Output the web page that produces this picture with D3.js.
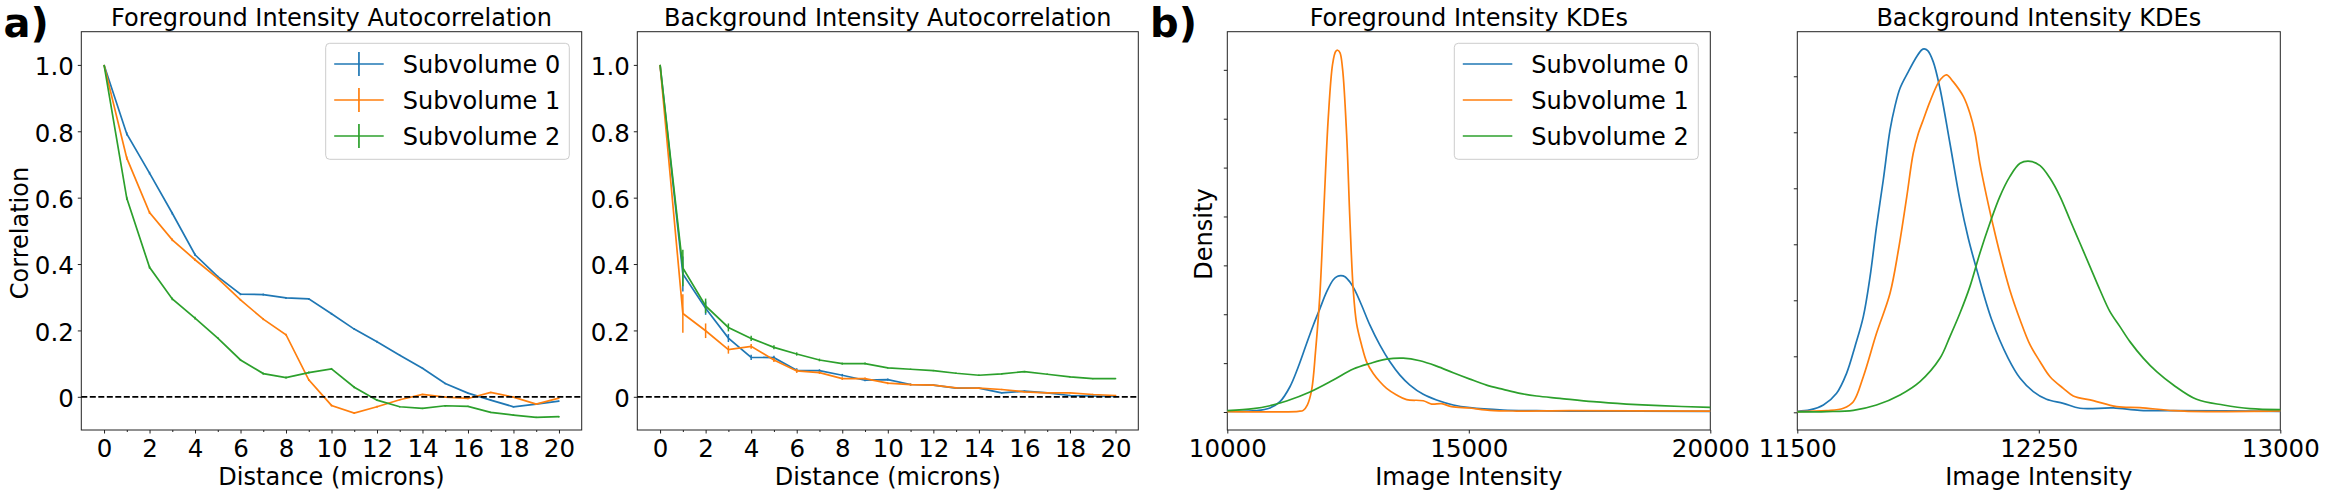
<!DOCTYPE html>
<html>
<head>
<meta charset="utf-8">
<script src="https://cdn.jsdelivr.net/npm/d3@7"></script>
<style>
  body { margin: 0; background: #fff; }
  svg { display: block; font-family: "DejaVu Sans", sans-serif; }
</style>
</head>
<body>
<div id="chart"></div>
<script>
const seriesNames = ["Subvolume 0", "Subvolume 1", "Subvolume 2"];
const colors = ["#1f77b4", "#ff7f0e", "#2ca02c"];

const distances = d3.range(0, 21);
const distanceTicks = d3.range(0, 21, 2);
const corrTicks = [0, 0.2, 0.4, 0.6, 0.8, 1.0];

// foreground autocorrelation
const fgCorr0 = [1, 0.792, 0.674, 0.553, 0.428, 0.362, 0.309, 0.308, 0.298, 0.295, 0.25, 0.204, 0.166, 0.125, 0.086, 0.04, 0.011, -0.01, -0.03, -0.022, -0.013];
const fgCorr1 = [1, 0.719, 0.555, 0.473, 0.413, 0.357, 0.292, 0.234, 0.187, 0.051, -0.026, -0.049, -0.03, -0.009, 0.007, -0.001, -0.005, 0.013, -0.001, -0.022, -0.004];
const fgCorr2 = [1, 0.598, 0.39, 0.295, 0.237, 0.177, 0.111, 0.07, 0.058, 0.073, 0.084, 0.029, -0.01, -0.03, -0.035, -0.027, -0.029, -0.047, -0.055, -0.062, -0.06];
const fgErr = [0, 0.005, 0.004, 0.004, 0.004, 0.003, 0.003, 0.003, 0.003, 0.003, 0.003, 0.003, 0.003, 0.002, 0.002, 0.002, 0.002, 0.002, 0.002, 0.002, 0.002];

// background autocorrelation
const bgCorr0 = [1, 0.37, 0.267, 0.177, 0.119, 0.118, 0.08, 0.079, 0.065, 0.05, 0.052, 0.037, 0.035, 0.026, 0.026, 0.012, 0.017, 0.012, 0.004, 0.002, 0.001];
const bgCorr1 = [1, 0.251, 0.199, 0.142, 0.152, 0.111, 0.078, 0.073, 0.055, 0.055, 0.041, 0.037, 0.035, 0.027, 0.026, 0.022, 0.015, 0.012, 0.012, 0.007, 0.004];
const bgCorr2 = [1, 0.388, 0.274, 0.209, 0.176, 0.149, 0.129, 0.111, 0.1, 0.1, 0.087, 0.083, 0.079, 0.071, 0.065, 0.069, 0.076, 0.068, 0.06, 0.055, 0.055];
const bgErr0 = [0, 0.053, 0.02, 0.012, 0.008, 0.006, 0.006, 0.004, 0.004, 0.003, 0.003, 0.003, 0.002, 0.002, 0.002, 0.002, 0.002, 0.002, 0.002, 0.002, 0.002];
const bgErr1 = [0, 0.058, 0.022, 0.012, 0.007, 0.006, 0.006, 0.004, 0.004, 0.003, 0.003, 0.003, 0.002, 0.002, 0.002, 0.002, 0.002, 0.002, 0.002, 0.002, 0.002];
const bgErr2 = [0, 0.055, 0.022, 0.012, 0.008, 0.006, 0.005, 0.004, 0.003, 0.003, 0.002, 0.002, 0.002, 0.002, 0.002, 0.002, 0.002, 0.002, 0.002, 0.002, 0.002];

// foreground KDEs, density in units of 1e-4
const fgInt0 = [10000, 10607, 10883, 11090, 11297, 11470, 11642, 11780, 11918, 12056, 12194, 12284, 12353, 12436, 12539, 12643, 12781, 12953, 13160, 13367, 13574, 13781, 14057, 14333, 14678, 15023, 15713, 16403, 17093, 20000];
const fgDen0 = [0.014, 0.027, 0.082, 0.211, 0.517, 0.925, 1.401, 1.776, 2.116, 2.456, 2.707, 2.776, 2.789, 2.769, 2.66, 2.49, 2.184, 1.776, 1.367, 1.027, 0.755, 0.551, 0.361, 0.245, 0.143, 0.088, 0.041, 0.027, 0.02, 0.014];
const fgInt1 = [10000, 11470, 11573, 11656, 11746, 11829, 11918, 12001, 12091, 12180, 12243, 12284, 12332, 12387, 12470, 12539, 12608, 12677, 12781, 12884, 13022, 13160, 13298, 13505, 13712, 14057, 14230, 14437, 14644, 15023, 15437, 15989, 17093, 20000];
const fgDen1 = [0.007, 0.014, 0.034, 0.143, 0.449, 1.265, 2.422, 4.19, 6.027, 7.116, 7.374, 7.401, 7.354, 7.014, 5.687, 3.918, 2.49, 1.81, 1.367, 1.027, 0.789, 0.619, 0.483, 0.347, 0.252, 0.231, 0.163, 0.17, 0.109, 0.082, 0.034, 0.02, 0.027, 0.02];
const fgInt2 = [10000, 10538, 10883, 11228, 11711, 12194, 12608, 12953, 13298, 13643, 13988, 14333, 14678, 15023, 15368, 15713, 16058, 16403, 16886, 17576, 18266, 18956, 20000];
const fgDen2 = [0.027, 0.068, 0.129, 0.224, 0.408, 0.653, 0.878, 0.993, 1.082, 1.102, 1.048, 0.939, 0.803, 0.673, 0.551, 0.463, 0.381, 0.327, 0.279, 0.211, 0.163, 0.129, 0.095];

// background KDEs, density in units of 1e-3
const bgInt0 = [11500, 11539, 11581, 11622, 11653, 11679, 11705, 11726, 11746, 11767, 11788, 11803, 11819, 11845, 11871, 11886, 11894, 11905, 11922, 11943, 11974, 12005, 12031, 12059, 12104, 12155, 12192, 12233, 12274, 12326, 12378, 12481, 12564, 12668, 13000];
const bgDen0 = [0.009, 0.021, 0.065, 0.17, 0.348, 0.586, 0.854, 1.211, 1.658, 2.074, 2.521, 2.729, 2.893, 3.042, 3.176, 3.235, 3.244, 3.229, 3.131, 2.893, 2.402, 1.896, 1.554, 1.256, 0.824, 0.482, 0.304, 0.185, 0.116, 0.08, 0.036, 0.039, 0.018, 0.015, 0.009];
const bgInt1 = [11500, 11591, 11643, 11674, 11705, 11746, 11788, 11814, 11840, 11860, 11876, 11891, 11912, 11938, 11953, 11964, 11984, 12016, 12036, 12052, 12067, 12088, 12109, 12129, 12160, 12192, 12223, 12254, 12285, 12326, 12357, 12419, 12492, 12564, 12668, 12771, 13000];
const bgDen1 = [0.006, 0.015, 0.036, 0.095, 0.318, 0.705, 1.063, 1.449, 1.926, 2.313, 2.491, 2.61, 2.774, 2.943, 2.997, 3.012, 2.952, 2.818, 2.67, 2.491, 2.223, 1.926, 1.658, 1.42, 1.092, 0.824, 0.601, 0.452, 0.318, 0.214, 0.146, 0.104, 0.051, 0.042, 0.015, 0.006, 0.012];
const bgInt2 = [11500, 11591, 11674, 11746, 11819, 11881, 11943, 11974, 12005, 12036, 12067, 12098, 12129, 12160, 12192, 12223, 12254, 12285, 12316, 12347, 12378, 12409, 12440, 12471, 12502, 12533, 12575, 12616, 12668, 12740, 12823, 12906, 13000];
const bgDen2 = [0.003, 0.006, 0.018, 0.065, 0.155, 0.274, 0.482, 0.676, 0.884, 1.122, 1.42, 1.688, 1.926, 2.104, 2.223, 2.241, 2.202, 2.089, 1.926, 1.717, 1.509, 1.301, 1.092, 0.899, 0.765, 0.631, 0.482, 0.363, 0.244, 0.116, 0.065, 0.033, 0.024];

const width = 2325;
const height = 496;
const plotTop = 31.7;
const plotBottom = 430;
const tickFont = 24.5;
const labelFont = 24;
const titleFont = 24;

const svg = d3
  .select("#chart")
  .append("svg")
  .attr("width", width)
  .attr("height", height)
  .attr("viewBox", [0, 0, width, height]);

const corrFormat = (d) => (d === 0 ? "0" : d3.format(".1f")(d));

function frame(left, right, title, xLabel) {
  const g = svg.append("g");
  g.append("rect")
    .attr("x", left)
    .attr("y", plotTop)
    .attr("width", right - left)
    .attr("height", plotBottom - plotTop)
    .attr("fill", "none")
    .attr("stroke", "#222")
    .attr("stroke-width", 1);
  g.append("text")
    .attr("x", (left + right) / 2)
    .attr("y", 26)
    .attr("text-anchor", "middle")
    .attr("font-size", titleFont)
    .text(title);
  g.append("text")
    .attr("x", (left + right) / 2)
    .attr("y", 485)
    .attr("text-anchor", "middle")
    .attr("font-size", labelFont)
    .text(xLabel);
  return g;
}

function styleAxis(g) {
  g.select(".domain").remove();
  g.selectAll(".tick line").attr("stroke", "#222");
  g.selectAll(".tick text").attr("font-size", tickFont).attr("font-family", "DejaVu Sans").attr("fill", "#000");
}

function corrPanel(left, right, title, values, errs, withLegend, yLabel) {
  const g = frame(left, right, title, "Distance (microns)");
  const x = d3.scaleLinear().domain([-1, 21]).range([left, right]);
  const y = d3.scaleLinear().domain([-0.1, 1.1]).range([plotBottom, plotTop]);

  g.append("g")
    .attr("transform", `translate(0,${plotBottom})`)
    .call(d3.axisBottom(x).tickValues(distances.filter((d) => d % 2 === 1)).tickSize(2).tickFormat(""))
    .call(styleAxis);
  g.append("g")
    .attr("transform", `translate(0,${plotBottom})`)
    .call(d3.axisBottom(x).tickValues(distanceTicks).tickSize(3.5).tickPadding(6).tickFormat(d3.format("d")))
    .call(styleAxis);
  g.append("g")
    .attr("transform", `translate(${left},0)`)
    .call(d3.axisLeft(y).tickValues(corrTicks).tickSize(3.5).tickPadding(4).tickFormat(corrFormat))
    .call(styleAxis)
    .call((a) => a.selectAll(".tick text").attr("dy", "0.4em"));

  const line = d3.line().x((d) => x(d.x)).y((d) => y(d.y));
  values.forEach((vals, i) => {
    const pts = vals.map((v, j) => ({ x: distances[j], y: v, e: errs[i][j] }));
    g.append("g")
      .selectAll("line")
      .data(pts)
      .join("line")
      .attr("x1", (d) => x(d.x))
      .attr("x2", (d) => x(d.x))
      .attr("y1", (d) => y(d.y - d.e))
      .attr("y2", (d) => y(d.y + d.e))
      .attr("stroke", colors[i])
      .attr("stroke-width", 1.5);
    g.append("path")
      .attr("fill", "none")
      .attr("stroke", colors[i])
      .attr("stroke-width", 1.7)
      .attr("d", line(pts));
  });

  // dashed zero line
  g.append("line")
    .attr("x1", left)
    .attr("x2", right)
    .attr("y1", y(0))
    .attr("y2", y(0))
    .attr("stroke", "#000")
    .attr("stroke-width", 1.7)
    .attr("stroke-dasharray", "6,2.5");

  if (yLabel) {
    g.append("text")
      .attr("transform", `translate(28,233) rotate(-90)`)
      .attr("text-anchor", "middle")
      .attr("font-size", labelFont)
      .text(yLabel);
  }
  if (withLegend) legend(325.7, 569.3, true);
}

function kdePanel(left, right, title, xDomain, xTicks, densTicks, yDomain, ints, dens, withLegend, yLabel) {
  const g = frame(left, right, title, "Image Intensity");
  const x = d3.scaleLinear().domain(xDomain).range([left, right]);
  const y = d3.scaleLinear().domain(yDomain).range([plotBottom, plotTop]);

  g.append("g")
    .attr("transform", `translate(0,${plotBottom})`)
    .call(d3.axisBottom(x).tickValues(xTicks).tickSize(3.5).tickPadding(6).tickFormat(d3.format("d")))
    .call(styleAxis);
  g.append("g")
    .attr("transform", `translate(${left},0)`)
    .call(d3.axisLeft(y).tickValues(densTicks).tickSize(3.5).tickFormat(""))
    .call(styleAxis);

  const line = d3.line().x((d) => x(d[0])).y((d) => y(d[1])).curve(d3.curveCatmullRom.alpha(0.5));
  ints.forEach((xs, i) => {
    g.append("path")
      .attr("fill", "none")
      .attr("stroke", colors[i])
      .attr("stroke-width", 1.7)
      .attr("d", line(xs.map((v, j) => [v, dens[i][j]])));
  });

  if (yLabel) {
    g.append("text")
      .attr("transform", `translate(1212,234) rotate(-90)`)
      .attr("text-anchor", "middle")
      .attr("font-size", labelFont)
      .text(yLabel);
  }
  if (withLegend) legend(1454.3, 1698.3, false);
}

function legend(x0, x1, withErr) {
  const g = svg.append("g");
  g.append("rect")
    .attr("x", x0)
    .attr("y", 43.3)
    .attr("width", x1 - x0)
    .attr("height", 116)
    .attr("rx", 4)
    .attr("fill", "#fff")
    .attr("fill-opacity", 0.8)
    .attr("stroke", "#ccc")
    .attr("stroke-width", 1);
  seriesNames.forEach((name, i) => {
    const ly = 64 + i * 36;
    const lx = x0 + 8.5;
    g.append("line")
      .attr("x1", lx)
      .attr("x2", lx + 49.5)
      .attr("y1", ly)
      .attr("y2", ly)
      .attr("stroke", colors[i])
      .attr("stroke-width", 1.7);
    if (withErr) {
      g.append("line")
        .attr("x1", lx + 24.75)
        .attr("x2", lx + 24.75)
        .attr("y1", ly - 12)
        .attr("y2", ly + 12)
        .attr("stroke", colors[i])
        .attr("stroke-width", 1.7);
    }
    g.append("text")
      .attr("x", lx + 68.5)
      .attr("y", ly + 8.7)
      .attr("font-size", labelFont)
      .text(name);
  });
}

corrPanel(81.3, 581.7, "Foreground Intensity Autocorrelation", [fgCorr0, fgCorr1, fgCorr2], [fgErr, fgErr, fgErr], true, "Correlation");
corrPanel(637.3, 1138.3, "Background Intensity Autocorrelation", [bgCorr0, bgCorr1, bgCorr2], [bgErr0, bgErr1, bgErr2], false, null);
kdePanel(1227.3, 1710.3, "Foreground Intensity KDEs", [10000, 20000], [10000, 15000, 20000], [0, 1, 2, 3, 4, 5, 6, 7], [-0.368, 7.78], [fgInt0, fgInt1, fgInt2], [fgDen0, fgDen1, fgDen2], true, "Density");
kdePanel(1797.3, 2280.3, "Background Intensity KDEs", [11500, 13000], [11500, 12250, 13000], [0, 0.5, 1, 1.5, 2, 2.5, 3], [-0.158, 3.398], [bgInt0, bgInt1, bgInt2], [bgDen0, bgDen1, bgDen2], false, null);

// panel letters
svg.append("text").attr("x", 3.4).attr("y", 36.7).attr("font-size", 40).attr("font-weight", "bold").text("a)");
svg.append("text").attr("x", 1150).attr("y", 36.7).attr("font-size", 40).attr("font-weight", "bold").text("b)");
</script>
</body>
</html>
